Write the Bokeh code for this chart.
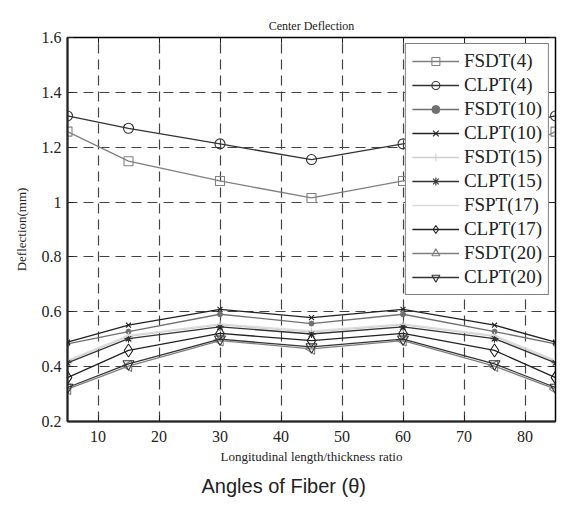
import math
from bokeh.plotting import figure
from bokeh.models import FixedTicker, LinearAxis, Title, Range1d, Legend, LegendItem
from bokeh.embed import file_html
from bokeh.resources import INLINE

# ---- data ----
angles = [5, 15, 30, 45, 60, 75, 85]
fsdt4 = [1.257, 1.149, 1.077, 1.015, 1.077, 1.149, 1.257]
clpt4 = [1.314, 1.269, 1.212, 1.155, 1.212, 1.269, 1.314]
fsdt10 = [0.483, 0.528, 0.591, 0.557, 0.591, 0.528, 0.483]
clpt10 = [0.489, 0.551, 0.609, 0.579, 0.609, 0.551, 0.489]
fsdt15 = [0.420, 0.510, 0.552, 0.526, 0.552, 0.510, 0.420]
clpt15 = [0.414, 0.502, 0.545, 0.519, 0.545, 0.502, 0.414]
fspt17 = [0.424, 0.514, 0.556, 0.530, 0.556, 0.514, 0.424]
clpt17 = [0.360, 0.459, 0.521, 0.495, 0.521, 0.459, 0.360]
fsdt20 = [0.318, 0.402, 0.495, 0.465, 0.495, 0.402, 0.318]
clpt20 = [0.324, 0.410, 0.500, 0.472, 0.500, 0.410, 0.324]

x_ticks = [10, 20, 30, 40, 50, 60, 70, 80]
y_ticks = [0.2, 0.4, 0.6, 0.8, 1.0, 1.2, 1.4, 1.6]
y_tick_labels = ["0.2", "0.4", "0.6", "0.8", "1", "1.2", "1.4", "1.6"]

series = [
    ("FSDT(4)", fsdt4, "#808080", "square", 0.0, 9),
    ("CLPT(4)", clpt4, "#333333", "circle", 0.0, 10),
    ("FSDT(10)", fsdt10, "#707070", "filled", 0.0, 5),
    ("CLPT(10)", clpt10, "#222222", "x", 0.0, 7),
    ("FSDT(15)", fsdt15, "#d0d0d0", "cross", 0.0, 9),
    ("CLPT(15)", clpt15, "#333333", "asterisk", 0.0, 8),
    ("FSPT(17)", fspt17, "#dcdcdc", None, 0.0, 0),
    ("CLPT(17)", clpt17, "#222222", "diamond", 0.0, 13),
    ("FSDT(20)", fsdt20, "#808080", "triangle", math.pi / 2, 11),
    ("CLPT(20)", clpt20, "#333333", "inverted_triangle", 0.0, 11),
]

SERIF = "Liberation Serif"

p = figure(width=560, height=512, output_backend="svg", toolbar_location=None,
           x_range=Range1d(5, 85), y_range=Range1d(0.2, 1.6),
           min_border_left=67, min_border_right=5, min_border_top=37,
           min_border_bottom=91)

p.title.text = "Center Deflection"
p.title.align = "center"
p.title.text_font = SERIF
p.title.text_font_size = "12px"
p.title.text_font_style = "normal"
p.title.text_color = "#222222"

p.outline_line_color = "black"
p.outline_line_width = 1.5

for ax in (p.xaxis[0], p.yaxis[0]):
    ax.axis_line_width = 2
    ax.axis_line_color = "#222222"
    ax.major_tick_in = 6
    ax.major_tick_out = 0
    ax.minor_tick_in = 0
    ax.minor_tick_out = 0
    ax.major_tick_line_color = "#222222"
    ax.major_label_text_font = SERIF
    ax.major_label_text_font_size = "16px"
    ax.major_label_text_color = "#222222"
    ax.axis_label_text_font = SERIF
    ax.axis_label_text_font_size = "13px"
    ax.axis_label_text_font_style = "normal"
    ax.axis_label_text_color = "#222222"

p.xaxis.ticker = FixedTicker(ticks=x_ticks)
p.yaxis.ticker = FixedTicker(ticks=y_ticks)
p.yaxis.major_label_overrides = {t: l for t, l in zip(y_ticks, y_tick_labels)}
p.xaxis.axis_label = "Longitudinal length/thickness ratio"
p.yaxis.axis_label = "Deflection(mm)"
p.xaxis.major_label_standoff = 9
p.xaxis.axis_label_standoff = 4
p.yaxis.major_label_standoff = 6
p.yaxis.axis_label_standoff = 10

# mirror axes with inward ticks, no labels
for loc, tk in (("right", y_ticks), ("above", x_ticks)):
    ax = LinearAxis(ticker=FixedTicker(ticks=tk))
    ax.major_label_overrides = {t: "" for t in tk}
    ax.major_label_standoff = 0
    ax.major_tick_in = 6
    ax.major_tick_out = 0
    ax.minor_tick_in = 0
    ax.minor_tick_out = 0
    ax.axis_line_color = "black"
    ax.major_tick_line_color = "#222222"
    p.add_layout(ax, loc)

p.xgrid.ticker = FixedTicker(ticks=x_ticks)
p.ygrid.ticker = FixedTicker(ticks=y_ticks)
for g in (p.xgrid[0], p.ygrid[0]):
    g.grid_line_color = "#444444"
    g.grid_line_dash = "10 6"
    g.grid_line_width = 1.2

legend_items = []
for name, ys, col, mk, ang, sz in series:
    rs = [p.line(angles, ys, line_color=col, line_width=1.3)]
    if mk == "filled":
        rs.append(p.scatter(angles, ys, marker="circle", size=sz,
                            line_color=col, fill_color=col))
    elif mk is not None:
        rs.append(p.scatter(angles, ys, marker=mk, size=sz, angle=ang,
                            line_color=col, fill_color=None, line_width=1.1))
    legend_items.append(LegendItem(label=name, renderers=rs))

leg = Legend(items=legend_items, location="top_right")
leg.label_text_font = SERIF
leg.label_text_font_size = "19px"
leg.label_text_color = "#222222"
leg.glyph_width = 47
leg.glyph_height = 20
leg.label_height = 20
leg.label_standoff = 5
leg.spacing = 2
leg.padding = 6
leg.margin = 6
leg.border_line_color = "black"
leg.border_line_width = 1.5
leg.background_fill_alpha = 1.0
p.add_layout(leg)

bottom = Title(text="Angles of Fiber (\u03b8)", align="left", offset=134,
               text_font="Liberation Sans", text_font_size="20px",
               text_font_style="normal", text_color="#222222",
               standoff=12)
p.add_layout(bottom, "below")

open("out.html", "w").write(file_html(p, INLINE))
